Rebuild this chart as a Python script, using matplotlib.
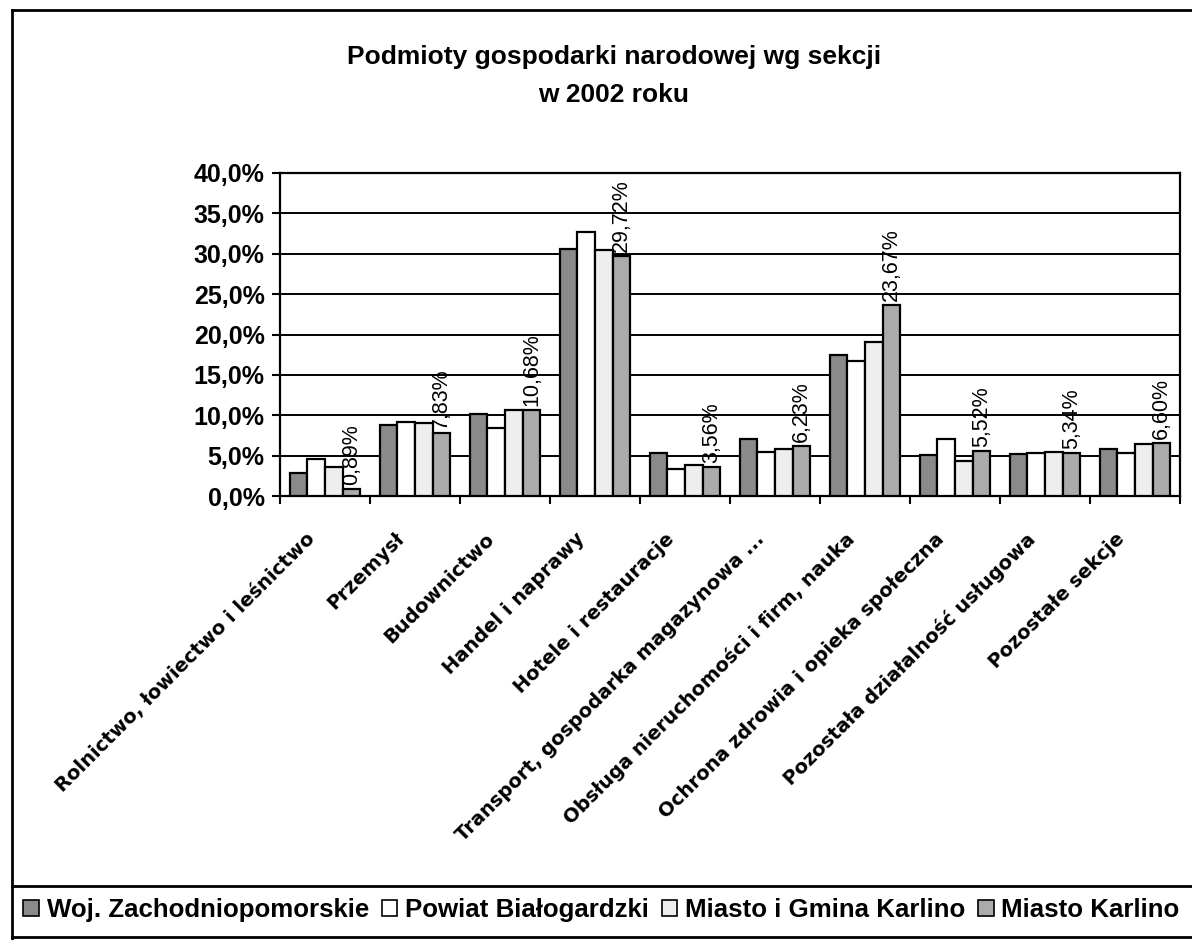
import matplotlib
matplotlib.use("Agg")
import matplotlib.pyplot as plt
import numpy as np
from matplotlib.patches import Patch
from matplotlib.lines import Line2D
from matplotlib.transforms import ScaledTranslation

categories = [
    "Rolnictwo, łowiectwo i leśnictwo",
    "Przemysł",
    "Budownictwo",
    "Handel i naprawy",
    "Hotele i restauracje",
    "Transport, gospodarka magazynowa ...",
    "Obsługa nieruchomości i firm, nauka",
    "Ochrona zdrowia i opieka społeczna",
    "Pozostała działalność usługowa",
    "Pozostałe sekcje",
]
series_names = ["Woj. Zachodniopomorskie", "Powiat Białogardzki",
                "Miasto i Gmina Karlino", "Miasto Karlino"]
woj = [2.8, 8.8, 10.15, 30.6, 5.3, 7.1, 17.4, 5.1, 5.2, 5.8]
powiat = [4.6, 9.2, 8.46, 32.65, 3.4, 5.5, 16.7, 7.0, 5.3, 5.3]
gmina = [3.55, 9.0, 10.65, 30.5, 3.9, 5.8, 19.05, 4.3, 5.4, 6.4]
miasto = [0.89, 7.83, 10.68, 29.72, 3.56, 6.23, 23.67, 5.52, 5.34, 6.60]
yticks = [0, 5, 10, 15, 20, 25, 30, 35, 40]

W, H = 1192, 940
fig = plt.figure(figsize=(W / 100, H / 100), dpi=100)
ax = fig.add_axes([280 / W, 1 - 496 / H, 900 / W, 323 / H])

colors = ["#8a8a8a", "#ffffff", "#eeeeee", "#ababab"]
data = [woj, powiat, gmina, miasto]
x = np.arange(len(categories))
bw = 0.197
bars = []
for j, (vals, c) in enumerate(zip(data, colors)):
    b = ax.bar(x + (j - 1.5) * bw, vals, bw, color=c, edgecolor="black",
               linewidth=1.6, zorder=3)
    bars.append(b)

for rect, v in zip(bars[3], miasto):
    ax.annotate(("%.2f%%" % v).replace(".", ","),
                (rect.get_x() + rect.get_width() / 2, rect.get_height()),
                xytext=(0, 3), textcoords="offset points",
                rotation=90, ha="center", va="bottom",
                fontsize=15.5, family="Liberation Sans", zorder=4)

ax.set_xlim(-0.5, len(categories) - 0.5)
ax.set_ylim(0, 40)
ax.set_yticks(yticks)
ax.set_yticklabels([("%.1f%%" % t).replace(".", ",") for t in yticks],
                   fontsize=18, fontweight="bold", family="Liberation Sans")
ax.yaxis.grid(True, color="black", linewidth=1.4, zorder=0)
ax.set_axisbelow(True)
ax.tick_params(axis="y", direction="out", length=6, width=1.5, pad=5)

ax.set_xticks(x)
ax.set_xticklabels(categories, rotation=45, ha="right", va="top",
                   rotation_mode="anchor", fontsize=14, fontweight="bold",
                   family="DejaVu Sans")
ax.tick_params(axis="x", which="major", length=0, pad=24)
shift = ScaledTranslation(-20 / 100, 0, fig.dpi_scale_trans)
for lbl in ax.get_xticklabels():
    lbl.set_transform(lbl.get_transform() + shift)
ax.set_xticks(np.arange(-0.5, len(categories) + 0.5, 1), minor=True)
ax.tick_params(axis="x", which="minor", direction="out", length=6, width=1.5)

for s in ax.spines.values():
    s.set_linewidth(1.6)

fig.text(0.5 * (343 + 885) / W, 1 - 57 / H,
         "Podmioty gospodarki narodowej wg sekcji", ha="center", va="center",
         fontsize=19, fontweight="bold", family="Liberation Sans")
fig.text(0.5 * (343 + 885) / W, 1 - 95 / H, "w 2002 roku", ha="center",
         va="center", fontsize=19, fontweight="bold",
         family="Liberation Sans")

# outer chart frame and legend box
fig.add_artist(Line2D([12 / W, 12 / W], [0, 1 - 10 / H], color="black", lw=2))
fig.add_artist(Line2D([12 / W, 1], [1 - 10 / H, 1 - 10 / H], color="black", lw=2))
fig.add_artist(Line2D([12 / W, 1], [1 - 886 / H, 1 - 886 / H], color="black", lw=2))
fig.add_artist(Line2D([12 / W, 1], [1 - 937 / H, 1 - 937 / H], color="black", lw=2))

handles = [Patch(facecolor=c, edgecolor="black", linewidth=1.2) for c in colors]
fig.legend(handles, series_names, loc="center", bbox_to_anchor=(601.5 / W, 1 - 910 / H),
           ncol=4, frameon=False, handlelength=0.6, handleheight=0.6,
           handletextpad=0.3, columnspacing=0.5, borderpad=0, borderaxespad=0,
           prop={"family": "Liberation Sans", "weight": "bold", "size": 18.6})

fig.savefig("out.png", dpi=100, facecolor="white")
